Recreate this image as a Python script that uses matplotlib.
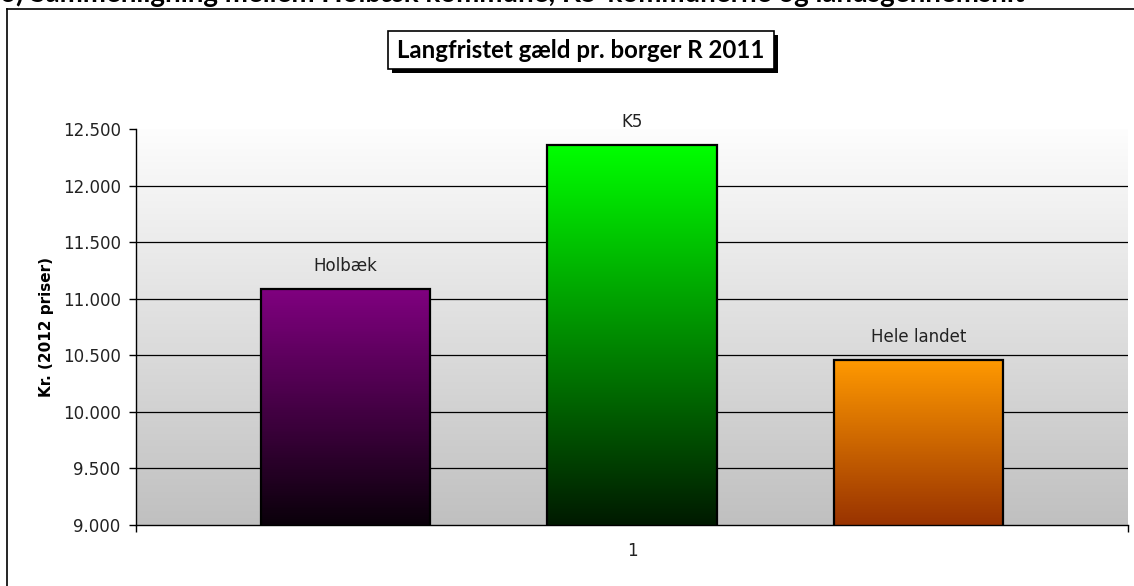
import numpy as np
import matplotlib
matplotlib.use("Agg")
import matplotlib.pyplot as plt
from matplotlib.colors import LinearSegmentedColormap
from matplotlib.ticker import FuncFormatter
from matplotlib.patches import Rectangle

# data
kategorier = ["Holbæk", "K5", "Hele landet"]
vaerdier = [11090, 12360, 10455]
farve_top = ["#800080", "#00ff00", "#ff9900"]
farve_bund = ["#0a000a", "#001a00", "#993300"]
y_ticks = [9000, 9500, 10000, 10500, 11000, 11500, 12000, 12500]

W, H = 1134, 586
fig = plt.figure(figsize=(W / 100, H / 100), dpi=100)
fig.patch.set_facecolor("white")

# afskaaret overskrift oeverst
fig.text(0.0, 1 - 2 / H, "6) Sammenligning mellem Holbæk kommune, K5-kommunerne og landsgennemsnit",
         fontsize=20, fontweight="bold", family="Lato", va="baseline", ha="left")

# ramme om diagrammet
fig.add_artist(plt.Line2D([7 / W, 7 / W], [0, 1 - 9 / H], color="black", lw=1.2))
fig.add_artist(plt.Line2D([7 / W, 1], [1 - 9 / H, 1 - 9 / H], color="black", lw=1.2))

ax = fig.add_axes([136 / W, 1 - 525 / H, (1128 - 136) / W, (525 - 129) / H])
xlim = (-0.731, 2.731)
ylim = (9000, 12500)

# baggrund med graa gradient
bg = np.linspace(0, 1, 256).reshape(-1, 1)
bg_cmap = LinearSegmentedColormap.from_list("bg", ["#c0c0c0", "#fdfdfd"])
ax.imshow(bg, extent=[xlim[0], xlim[1], ylim[0], ylim[1]], origin="lower",
          aspect="auto", cmap=bg_cmap, zorder=0)

for y in y_ticks[1:-1]:
    ax.axhline(y, color="black", lw=0.9, zorder=1)

x = np.arange(len(kategorier))
bars = ax.bar(x, vaerdier, width=0.59, bottom=0, facecolor="none",
              edgecolor="black", linewidth=1.6, zorder=3)

for i, b in enumerate(bars):
    cmap = LinearSegmentedColormap.from_list("g%d" % i, [farve_bund[i], farve_top[i]])
    im = ax.imshow(bg, extent=[b.get_x(), b.get_x() + b.get_width(), ylim[0], vaerdier[i]],
                   origin="lower", aspect="auto", cmap=cmap, zorder=2)
    im.set_clip_path(b)
    ax.annotate(kategorier[i], (x[i], vaerdier[i]), xytext=(0, 10), textcoords="offset points",
                ha="center", va="bottom", fontsize=12, color="#222222")

ax.set_xlim(xlim)
ax.set_ylim(ylim)
ax.set_yticks(y_ticks)
ax.yaxis.set_major_formatter(FuncFormatter(lambda v, p: f"{int(v):,}".replace(",", ".")))
ax.set_xticks([1])
ax.set_xticklabels(["1"])
ax.set_xticks([xlim[0], xlim[1]], minor=True)
ax.tick_params(axis="x", which="major", length=0, pad=12, labelsize=12, labelcolor="#222222")
ax.tick_params(axis="x", which="minor", length=5, width=1)
ax.tick_params(axis="y", length=5, width=1, labelsize=12, pad=6, labelcolor="#222222")

for s in ["top", "right"]:
    ax.spines[s].set_visible(False)
ax.spines["left"].set_linewidth(1)
ax.spines["bottom"].set_linewidth(1)

ax.set_ylabel("Kr. (2012 priser)", fontsize=11, fontweight="bold", labelpad=6)

# titel i boks med skygge
fig.add_artist(Rectangle((392 / W, 1 - 73 / H), 386 / W, 38 / H, transform=fig.transFigure,
                         facecolor="black", edgecolor="none"))
fig.add_artist(Rectangle((388 / W, 1 - 69 / H), 386 / W, 38 / H, transform=fig.transFigure,
                         facecolor="white", edgecolor="black", lw=1.2))
fig.text(581 / W, 1 - 51 / H, "Langfristet gæld pr. borger R 2011",
         fontsize=17.3, fontweight="bold", family="Lato", ha="center", va="center")

fig.savefig("out.png", dpi=100)
